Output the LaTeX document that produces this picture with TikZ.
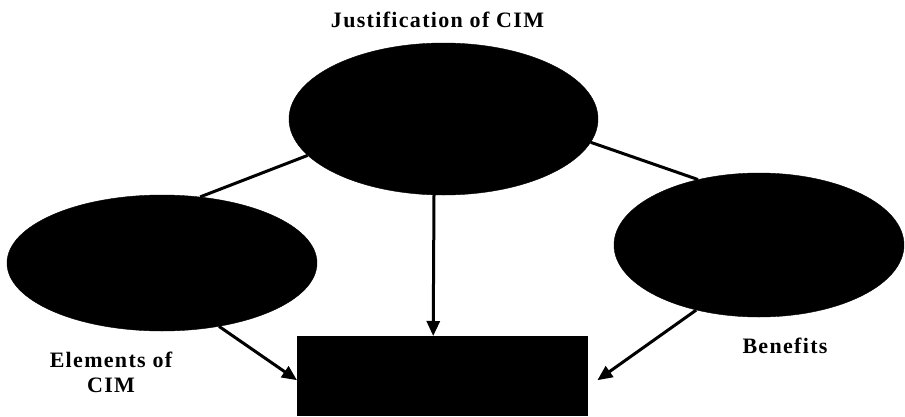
\documentclass[tikz,border=0pt]{standalone}
\usepackage{fontspec}
\setmainfont{Liberation Serif}
\usetikzlibrary{shapes.geometric,arrows.meta}
\begin{document}
\begin{tikzpicture}[x=1pt,y=-1pt,
  blob/.style={ellipse,fill=black,draw=black,inner sep=0pt},
  link/.style={line width=3pt,black},
  arr/.style={link,-{Triangle[length=15pt,width=13pt]}},
  lbl/.style={font=\fontsize{22}{25}\selectfont\bfseries\addfontfeatures{LetterSpace=6},align=center}]
\useasboundingbox (0,0) rectangle (905,416);
\node[blob,minimum width=309pt,minimum height=152pt] (top) at (443.5,119) {};
\node[blob,minimum width=310pt,minimum height=136pt] (left) at (162,263) {};
\node[blob,minimum width=290pt,minimum height=144pt] (right) at (759,245) {};
\node[fill=black,minimum width=291pt,minimum height=80pt,inner sep=0pt,anchor=north west] (box) at (297,336) {};
\node[lbl,anchor=base] (t1) at (437.5,27) {Justification of CIM};
\node[lbl] (t2) at (111,372) {Elements of\\CIM};
\node[lbl,anchor=base] (t3) at (785,353) {Benefits};
\draw[link] (top.195) -- (left.60);
\draw[link] (top.-9) -- (right.133);
\draw[arr] ([xshift=-9.5pt]top.south) -- ([xshift=-9.5pt]box.north);
\draw[arr] (left.-48) -- ([yshift=-4pt]box.west);
\draw[arr] (right.226) -- ([xshift=9pt,yshift=-4pt]box.east);
\end{tikzpicture}
\end{document}
